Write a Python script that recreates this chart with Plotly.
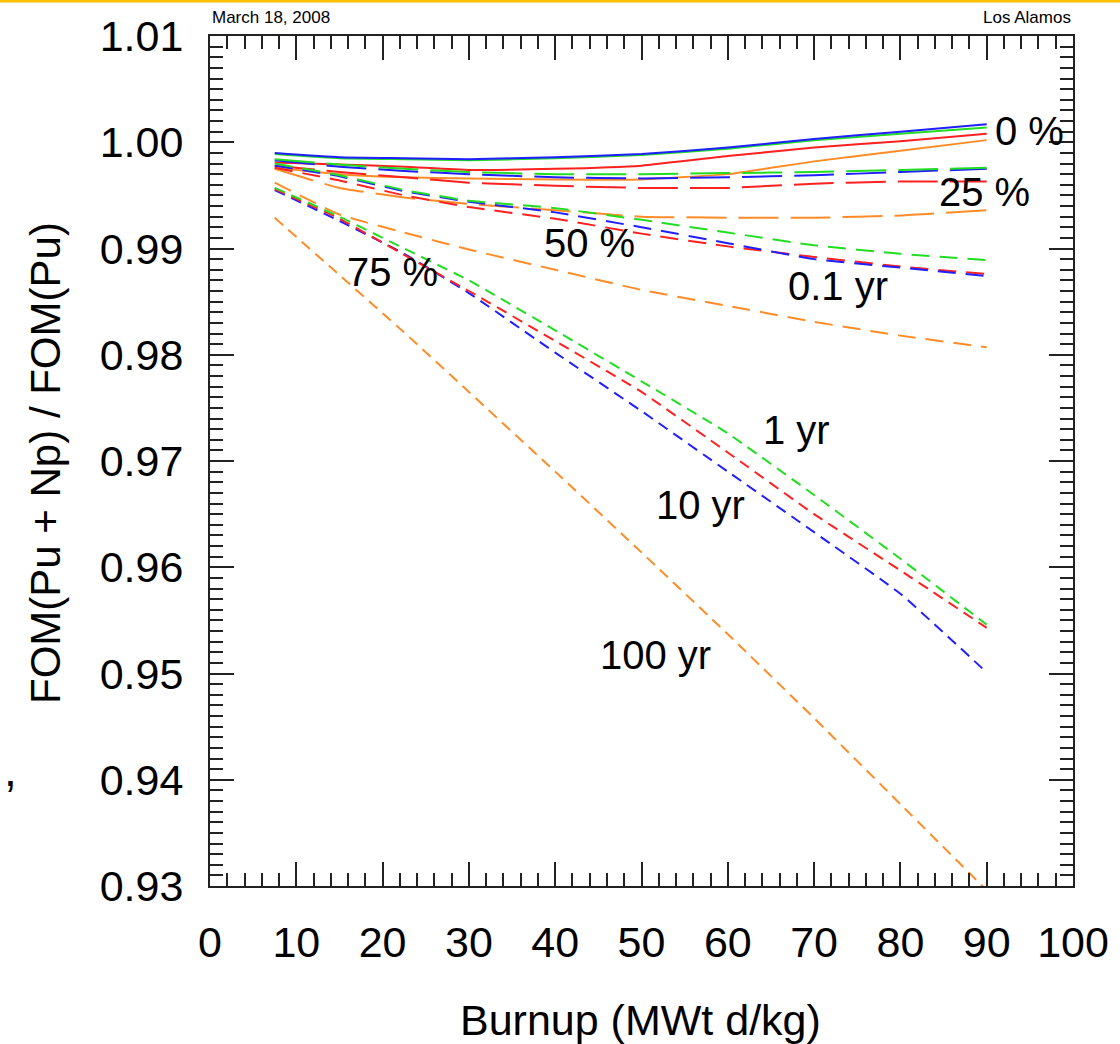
import plotly.graph_objects as go

# ---------------- data ----------------
burnup = [7.5, 15, 22.5, 30, 40, 50, 60, 70, 80, 90]

# 0 % (solid)
p0_blue   = [0.9990, 0.9986, 0.9985, 0.9984, 0.9986, 0.9989, 0.9995, 1.0003, 1.0010, 1.0017]
p0_green  = [0.9989, 0.9985, 0.9984, 0.9983, 0.9985, 0.9988, 0.9994, 1.0002, 1.0008, 1.0014]
p0_red    = [0.9981, 0.9979, 0.9977, 0.9974, 0.9975, 0.9978, 0.9987, 0.9995, 1.0001, 1.0008]
p0_orange = [0.9976, 0.9970, 0.9967, 0.9966, 0.9965, 0.9965, 0.9970, 0.9982, 0.9992, 1.0002]

# 25 % (long dash)
p25_green  = [0.9984, 0.9979, 0.9975, 0.9972, 0.9970, 0.9970, 0.9971, 0.9972, 0.9974, 0.9976]
p25_blue   = [0.9983, 0.9977, 0.9973, 0.9970, 0.9967, 0.9966, 0.9967, 0.9969, 0.9972, 0.9975]
p25_red    = [0.9978, 0.9972, 0.9967, 0.9962, 0.9959, 0.9957, 0.9957, 0.9961, 0.9963, 0.9963]
p25_orange = [0.9975, 0.9957, 0.9948, 0.9942, 0.9936, 0.9930, 0.9929, 0.9929, 0.9931, 0.9936]

# 50 % (medium dash)
p50_green  = [0.9980, 0.9969, 0.9955, 0.9945, 0.9938, 0.9927, 0.9915, 0.9903, 0.9895, 0.9889]
p50_blue   = [0.9978, 0.9968, 0.9954, 0.9944, 0.9934, 0.9920, 0.9905, 0.9890, 0.9882, 0.9874]
p50_red    = [0.9976, 0.9964, 0.9950, 0.9939, 0.9928, 0.9914, 0.9902, 0.9892, 0.9883, 0.9876]
p50_orange = [0.9962, 0.9932, 0.9915, 0.9899, 0.9880, 0.9861, 0.9846, 0.9831, 0.9818, 0.9807]

# 75 % (short dash)
p75_green  = [0.9957, 0.9930, 0.9900, 0.9870, 0.9823, 0.9775, 0.9726, 0.9668, 0.9608, 0.9546]
p75_red    = [0.9956, 0.9928, 0.9894, 0.9860, 0.9813, 0.9765, 0.9708, 0.9650, 0.9597, 0.9543]
p75_blue   = [0.9955, 0.9926, 0.9895, 0.9858, 0.9802, 0.9747, 0.9690, 0.9633, 0.9575, 0.9501]
p75_orange = [0.9929, 0.9875, 0.9821, 0.9765, 0.9690, 0.9614, 0.9537, 0.9458, 0.9377, 0.9296]

curve_labels = ["0 %", "25 %", "50 %", "75 %", "0.1 yr", "1 yr", "10 yr", "100 yr"]
label_x = [95.0, 89.8, 44.0, 21.2, 72.8, 68.0, 56.8, 51.6]
label_y = [1.0011, 0.9953, 0.9905, 0.9878, 0.9865, 0.9729, 0.9659, 0.9517]

x_ticks = list(range(0, 101, 10))
y_ticks = [0.93, 0.94, 0.95, 0.96, 0.97, 0.98, 0.99, 1.00, 1.01]

# ---------------- styles ----------------
BLUE, RED, GREEN, ORANGE = "#1f1fff", "#ff2020", "#22dd22", "#ff8c28"
D0, D25, D50, D75 = "solid", "40px,12px", "18px,10px", "11px,7px"

series = [
    (p0_orange, ORANGE, D0), (p0_red, RED, D0), (p0_green, GREEN, D0), (p0_blue, BLUE, D0),
    (p25_orange, ORANGE, D25), (p25_red, RED, D25), (p25_blue, BLUE, D25), (p25_green, GREEN, D25),
    (p50_orange, ORANGE, D50), (p50_red, RED, D50), (p50_blue, BLUE, D50), (p50_green, GREEN, D50),
    (p75_orange, ORANGE, D75), (p75_blue, BLUE, D75), (p75_red, RED, D75), (p75_green, GREEN, D75),
]

fig = go.Figure()
for vals, col, dash in series:
    fig.add_trace(go.Scatter(x=burnup, y=vals, mode="lines",
                             line=dict(color=col, width=2, dash=dash, shape="spline", smoothing=0.4),
                             showlegend=False, hoverinfo="skip"))

FONT = "Liberation Sans, Arial, sans-serif"

for t, lx, ly in zip(curve_labels, label_x, label_y):
    fig.add_annotation(x=lx, y=ly, text=t, showarrow=False, xref="x", yref="y",
                       font=dict(family=FONT, size=40, color="black"))

# plot area in pixels: left 210, right 1073, top 36, bottom 886
PW, PH = 863.0, 850.0
fig.add_annotation(xref="paper", yref="paper", x=0, y=1 + 18 / PH, xanchor="left", yanchor="middle",
                   text="March 18, 2008", showarrow=False, font=dict(family=FONT, size=17, color="black"))
fig.add_annotation(xref="paper", yref="paper", x=1, y=1 + 18 / PH, xanchor="right", yanchor="middle",
                   text="Los Alamos", showarrow=False, font=dict(family=FONT, size=17, color="black"))
fig.add_annotation(xref="paper", yref="paper", x=(640 - 210) / PW, y=-(1020 - 886) / PH,
                   xanchor="center", yanchor="middle", text="Burnup (MWt d/kg)", showarrow=False,
                   font=dict(family=FONT, size=43, color="black"))
fig.add_annotation(xref="paper", yref="paper", x=(45 - 210) / PW, y=(886 - 463) / PH,
                   xanchor="center", yanchor="middle", text="FOM(Pu + Np) / FOM(Pu)", textangle=-90,
                   showarrow=False, font=dict(family=FONT, size=42, color="black"))
fig.add_annotation(xref="paper", yref="paper", x=(10 - 210) / PW, y=(886 - 770) / PH,
                   xanchor="center", yanchor="middle", text=",", showarrow=False,
                   font=dict(family=FONT, size=46, color="black"))

# gold rule at top of the page
fig.add_shape(type="line", xref="paper", yref="paper",
              x0=-210 / PW, x1=(1120 - 210) / PW, y0=1 + 35 / PH, y1=1 + 35 / PH,
              line=dict(color="#FFC000", width=3))

axis_common = dict(showline=True, linecolor="#222", linewidth=2, mirror="allticks",
                   ticks="inside", tickcolor="#222", tickwidth=2, showgrid=False, zeroline=False,
                   tickfont=dict(family=FONT, size=43, color="black"))

fig.update_xaxes(range=[0, 100], tickvals=x_ticks, ticklen=24, ticklabelstandoff=17,
                 minor=dict(dtick=2, ticks="inside", ticklen=13, tickcolor="#222", tickwidth=2, showgrid=False),
                 **axis_common)
fig.update_yaxes(range=[0.93, 1.01], tickvals=y_ticks, tickformat=".2f", ticklen=24, ticklabelstandoff=16,
                 minor=dict(dtick=0.001, ticks="inside", ticklen=13, tickcolor="#222", tickwidth=2, showgrid=False),
                 **axis_common)

fig.update_layout(width=1120, height=1044, paper_bgcolor="white", plot_bgcolor="white",
                  margin=dict(l=210, r=47, t=36, b=158, autoexpand=False),
                  showlegend=False)

fig.write_html("out.html")
